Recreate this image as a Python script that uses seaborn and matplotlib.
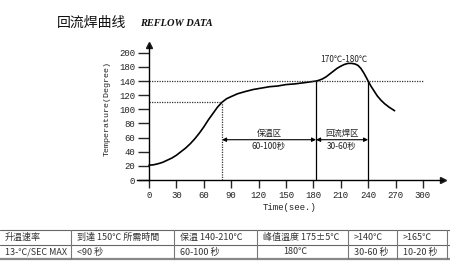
import numpy as np
import pandas as pd
import seaborn as sns
import matplotlib.pyplot as plt

# 回流焊曲线数据
time_s = [0, 5, 10, 15, 20, 25, 30, 35, 40, 45, 50, 55, 60, 65, 70, 75, 80, 85, 90, 97,
          105, 114, 123, 132, 141, 150, 160, 172, 183, 186, 190, 194, 198, 202, 206, 210,
          214, 218, 222, 226, 229, 232, 235, 238, 240, 243, 246, 250, 254, 258, 263, 269]
temp_c = [21, 21.5, 23, 25, 28, 31, 35, 40, 45, 51, 58, 66, 75, 85, 94, 103, 110, 115, 118, 122,
          125, 128, 130, 132, 133, 135, 136, 138, 140, 141, 143, 146, 150, 154, 158, 161,
          163.5, 165, 165, 164, 162, 158, 152, 145, 140, 133, 127, 119, 113, 108, 103, 98]

x_ticks = [0, 30, 60, 90, 120, 150, 180, 210, 240, 270, 300]
y_ticks = [0, 20, 40, 60, 80, 100, 120, 140, 160, 180]
y_tick_labels = ['0', '20', '40', '60', '80', '100', '120', '140', '180', '200']

soak_start, reflow_start, reflow_end = 80, 183, 240
soak_temp, liquidus = 110, 140
peak_label_pos = (213, 170)

table_head = ['升温速率', '到達 150℃ 所需時間', '保温 140-210℃', '峰值溫度 175±5℃', '>140℃', '>165℃']
table_vals = ['13-℃/SEC MAX', '<90 秒', '60-100 秒', '180℃', '30-60 秒', '10-20 秒']

# 样式
sns.set_theme(style='white')
plt.rcParams['font.family'] = ['Noto Sans CJK SC', 'DejaVu Sans']
mono = ['Liberation Mono', 'DejaVu Sans Mono']

W, H = 450, 262
fig = plt.figure(figsize=(W / 100, H / 100), dpi=100)

# 主图
ax = fig.add_axes([137 / W, (H - 180) / H, 306 / W, 135 / H])
sns.lineplot(x=time_s, y=temp_c, ax=ax, color='black', linewidth=1.2)
ax.set_xlim(-13.1, 322)
ax.set_ylim(0, 191)

for s in ['top', 'right']:
    ax.spines[s].set_visible(False)
ax.spines['left'].set_position(('data', 0))
ax.spines['bottom'].set_position(('data', 0))
for s in ['left', 'bottom']:
    ax.spines[s].set_color('black')
    ax.spines[s].set_linewidth(1.0)
ax.plot(1, 0, '>k', ms=4, transform=ax.get_yaxis_transform(), clip_on=False)
ax.plot(0, 1, '^k', ms=4, transform=ax.get_xaxis_transform(), clip_on=False)

ax.set_xticks(x_ticks)
ax.set_yticks(y_ticks)
ax.set_yticklabels(y_tick_labels)
ax.tick_params(axis='x', direction='out', length=6, width=1.0, pad=2, bottom=True,
               labelsize=6.5, labelcolor='#222', labelfontfamily=mono[0])
ax.tick_params(axis='y', direction='out', length=8, width=1.0, pad=2, left=True,
               labelsize=6.5, labelcolor='#222', labelfontfamily=mono[0])

ax.set_xlabel('Time(see.)', fontsize=6.5, family=mono, color='#222')
ax.set_ylabel('Temperature(Degree)', fontsize=6, family=mono, color='#222')
ax.xaxis.set_label_coords(0.5, -0.17)
ax.yaxis.set_label_coords(-0.085, 0.53)

# 参考线
dot = (0, (1, 1))
ax.hlines(liquidus, 0, 300, colors='#333', linestyles=[dot], linewidth=0.9)
ax.hlines(soak_temp, 0, soak_start, colors='#333', linestyles=[dot], linewidth=0.9)
ax.vlines(soak_start, 0, soak_temp, colors='#333', linestyles=[dot], linewidth=0.9)
ax.vlines([reflow_start, reflow_end], 0, liquidus, colors='black', linewidth=0.9)

# 区间箭头
arrow = dict(arrowstyle='<|-|>', lw=0.8, color='black', mutation_scale=6, shrinkA=0, shrinkB=0)
ax.annotate('', xy=(soak_start, 57), xytext=(reflow_start, 57), arrowprops=arrow)
ax.annotate('', xy=(reflow_start, 57), xytext=(reflow_end, 57), arrowprops=arrow)
mid1 = (soak_start + reflow_start) / 2
mid2 = (reflow_start + reflow_end) / 2
ax.text(mid1, 66, '保温区', ha='center', va='center', fontsize=6, color='#222')
ax.text(mid1, 47, '60-100秒', ha='center', va='center', fontsize=6, color='#222')
ax.text(mid2, 66, '回流焊区', ha='center', va='center', fontsize=6, color='#222')
ax.text(mid2, 47, '30-60秒', ha='center', va='center', fontsize=6, color='#222')
ax.text(*peak_label_pos, '170℃-180℃', ha='center', va='center', fontsize=6, color='#222')

# 标题
fig.text(57 / W, 1 - 23 / H, '回流焊曲线', fontsize=10, va='center', ha='left', color='#111')
fig.text(140 / W, 1 - 23 / H, 'REFLOW DATA', fontsize=7.5, va='center', ha='left',
         family=['Liberation Serif', 'DejaVu Serif'], style='italic', weight='bold', color='#111')

# 底部表格
tax = fig.add_axes([0, 0, 1, 1])
tax.set_xlim(0, W)
tax.set_ylim(H, 0)
tax.axis('off')
col_edges = [0, 71, 174, 257, 348, 397, 447]
row_lines = [230, 245, 259]
for i, yy in enumerate(row_lines):
    tax.plot([0, W], [yy, yy], color='#666' if i < 2 else '#888', lw=0.8 if i < 2 else 1.6)
for xx in col_edges[1:]:
    tax.plot([xx, xx], [230, 259], color='#777', lw=0.8)
for j in range(6):
    x0 = col_edges[j] + (5 if j == 0 else 6)
    tax.text(x0, 237.5, table_head[j], ha='left', va='center', fontsize=6.5, color='#333')
    if table_vals[j] == '180℃':
        tax.text(295, 252, table_vals[j], ha='center', va='center', fontsize=6.5, color='#333')
    else:
        tax.text(x0, 252, table_vals[j], ha='left', va='center', fontsize=6.5, color='#333')

fig.savefig('out.png', dpi=100)
